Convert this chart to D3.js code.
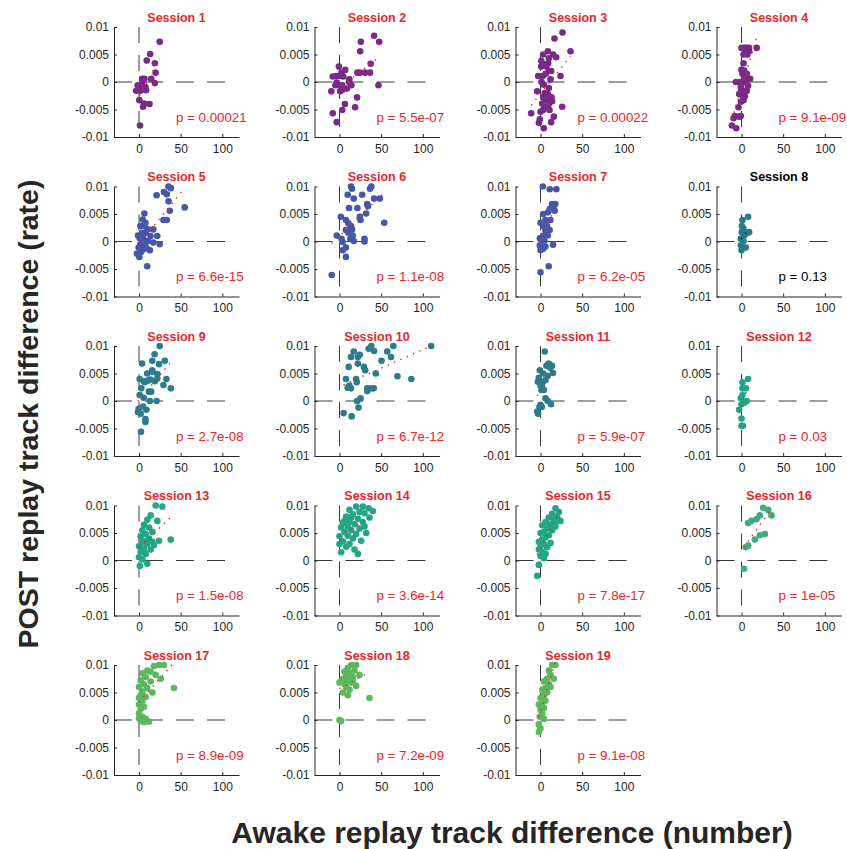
<!DOCTYPE html>
<html><head><meta charset="utf-8">
<script src="https://cdn.jsdelivr.net/npm/d3@7/dist/d3.min.js"></script>
<style>body{margin:0;background:#fff}</style>
</head><body>
<svg id="chart" width="847" height="849"></svg>
<script>
// ---- data ----
const sessionNames = ["Session 1","Session 2","Session 3","Session 4","Session 5","Session 6","Session 7","Session 8","Session 9","Session 10","Session 11","Session 12","Session 13","Session 14","Session 15","Session 16","Session 17","Session 18","Session 19"];
const pLabels = ["0.00021","5.5e-07","0.00022","9.1e-09","6.6e-15","1.1e-08","6.2e-05","0.13","2.7e-08","6.7e-12","5.9e-07","0.03","1.5e-08","3.6e-14","7.8e-17","1e-05","8.9e-09","7.2e-09","9.1e-08"];
const pNumbers = [0.00021,5.5e-07,0.00022,9.1e-09,6.6e-15,1.1e-08,6.2e-05,0.13,2.7e-08,6.7e-12,5.9e-07,0.03,1.5e-08,3.6e-14,7.8e-17,1e-05,8.9e-09,7.2e-09,9.1e-08];
const xTicks = [0, 50, 100];
const yTicks = [-0.01, -0.005, 0, 0.005, 0.01];
const yTickLabels = ["-0.01", "-0.005", "0", "0.005", "0.01"];

const s1x = [24.8,13.4,9.3,19,19.9,14.6,19,3.7,6.5,-1.6,-3.3,2.8,8.5,1.6,0.4,6.1,12.6,4.9,1.2,4,7.7];
const s1y = [0.0073,0.0051,0.0039,0.0034,0.0017,0.0006,-0.0002,0.0006,0.0006,-0.0006,-0.0016,-0.0009,-0.0015,-0.0016,-0.0033,-0.0039,-0.004,-0.0045,-0.0079,0.0001,-0.0009];
const s2x = [41.5,47.6,25.6,24.8,37.4,21.5,24.4,30.5,36.6,46.7,-0.8,6.9,2.4,-4,0,4.5,11.8,11.4,-4.9,-0.8,3.3,8.9,14.2,-9.8,0.8,3.7,21.1,6.5,18.7,3.3,-8.1,-3.3,-3.3,-8.1];
const s2y = [0.0084,0.0073,0.0073,0.0056,0.0033,0.0017,0.0017,0.0017,0.0017,-0.0006,0.0028,0.0022,0.0017,0.0011,0.0011,0.0010,0.0005,0,-0.0006,-0.0006,-0.0006,-0.0012,-0.0006,-0.0017,-0.0017,-0.0014,-0.0028,-0.004,-0.0046,-0.0051,-0.0057,-0.0073,-0.0001,0.001];
const s3x = [26.4,16.8,36,8.8,3.2,15.2,18.8,10,9.2,7.2,0.8,12.8,10,6.4,-2.8,2.8,24,12,1.2,4,10,-4,8.8,3.2,13.2,7.2,2,10,4.8,26,3.2,10.8,-11.2,16,-0.8,-2,12.8,4,0,5,14,1,6];
const s3y = [0.009,0.0079,0.0056,0.0056,0.005,0.005,0.0045,0.0043,0.0034,0.0028,0.0028,0.002,0.002,0.0015,0.0011,0.0011,0.0011,0.0005,0,-0.0005,-0.0011,-0.0017,-0.0022,-0.0028,-0.0028,-0.0033,-0.0039,-0.004,-0.0046,-0.0045,-0.0051,-0.0051,-0.0057,-0.0063,-0.0068,-0.0074,-0.0073,-0.0084,-0.0054,-0.002,-0.0035,0.0038,0.0032];
const s4x = [18.2,0,3.2,6.3,9.1,5.1,9.1,7,2.4,2.4,0,3.2,1.2,6.3,3.2,7.9,10.3,-6.7,-1.6,5.1,-0.8,7.9,-0.4,3.2,6,-2.8,0,4,2.4,-0.8,-3.6,-7.9,-0.8,-2.8,-9.5,-11.5,-6.3,6.3];
const s4y = [0.0062,0.0062,0.0062,0.0062,0.0062,0.0056,0.0056,0.005,0.005,0.0034,0.0022,0.0021,0.0015,0.0015,0.0009,0.0006,0.0006,0,0,-0.0001,-0.0008,-0.0007,-0.0016,-0.0016,-0.0016,-0.0022,-0.0023,-0.0026,-0.0033,-0.0036,-0.0046,-0.0062,-0.0062,-0.0063,-0.0066,-0.0079,-0.0084,-0.0016];
const s5x = [35.4,38.2,30,33.3,21.1,35.4,37,54.9,29.3,33.3,6.5,4.5,7.7,1.6,6.5,10.6,17.1,3.7,7.7,13.8,21.9,-1.2,0.8,4.9,10.6,17.1,1.6,6.5,24.8,-0.4,8.9,13,2.4,5.7,-2.4,0.4,9.8];
const s5y = [0.01,0.0097,0.009,0.0086,0.0084,0.0073,0.0056,0.0062,0.0039,0.0039,0.0051,0.004,0.0034,0.0028,0.0028,0.0022,0.0022,0.0016,0.0016,0.001,0.001,0.0011,0.0006,0.0006,0.0001,-0.0002,-0.0005,-0.0005,-0.0005,-0.0011,-0.0011,-0.0016,-0.0019,-0.0014,-0.0022,-0.0028,-0.0045];
const s6x = [13.8,15,38.2,36.6,27.2,9.8,17.1,41.5,48.4,11.4,21.5,33.3,34.1,32,24.4,25.2,1.6,53.7,7.7,10.6,13.8,15,7.7,10.6,15.9,-3.3,2.4,3.7,13,17.1,30,30,3.7,7.7,7.7,-9.3];
const s6y = [0.01,0.0096,0.01,0.0096,0.0085,0.0085,0.0078,0.0078,0.0078,0.0061,0.0061,0.0068,0.0064,0.0051,0.0045,0.0039,0.0045,0.0034,0.0039,0.0033,0.0028,0.0022,0.0021,0.0016,0.0011,0.0011,0.0005,-0.0001,0.0005,0.0001,0.0005,0,-0.0016,-0.0011,-0.0028,-0.0061];
const s7x = [2.8,11.1,19,13.8,17.8,15.8,11.1,17,9.1,3.2,11.9,5.9,0,7.9,3.2,11,5.9,3.2,8.7,-0.8,0.8,4.7,15,-0.8,5.9,0,3.2,9.9,0];
const s7y = [0.01,0.0095,0.0095,0.0068,0.0068,0.006,0.0059,0.0056,0.0053,0.005,0.0039,0.0039,0.0034,0.0028,0.0028,0.0021,0.0021,0.0011,0.0011,0.0006,0.0003,0.0001,-0.0006,-0.0007,-0.0009,-0.0016,-0.0013,-0.0045,-0.0056];
const s8x = [7.9,1.2,0.4,2.4,9.1,6.3,0.4,3.2,-0.8,2.4,-0.8,3.2,0,5.1];
const s8y = [0.0045,0.0039,0.0028,0.0023,0.0017,0.0015,0.0017,0.0011,0.0005,0.0001,-0.0007,-0.0011,-0.0016,-0.0011];
const s9x = [24.8,18.7,15.9,30.9,24,3.7,15.9,9.8,22,22,32.9,0.8,5.7,10.6,13.8,29.3,38.2,2.8,11.8,14.6,0.8,5.7,13,21.1,-0.4,8.9,-1.2,2,7.7,7.7,2.4,4.9,19,7,16];
const s9y = [0.01,0.0085,0.0073,0.0073,0.0067,0.0068,0.0056,0.005,0.0049,0.0041,0.004,0.004,0.0036,0.0037,0.0039,0.0029,0.0023,0.0023,0.0017,0.0017,0.0011,0.0006,0,0,-0.0014,-0.0016,-0.002,-0.0023,-0.0033,-0.0038,-0.0056,-0.001,0.0036,0.0034,0.0053];
const s10x = [38.2,64.6,110,35,41.5,17.1,57.3,24.4,22,13.8,61.8,50.4,22,11,29.3,30.9,43.5,69.5,86.2,7.7,19.9,20.7,11.8,9.8,33.3,38.2,41.1,33.3,25.2,21.1,22.8,4.9,14.6,13.8,10.5];
const s10y = [0.01,0.01,0.01,0.0095,0.0091,0.009,0.009,0.0084,0.008,0.008,0.008,0.0073,0.0068,0.0062,0.0062,0.0056,0.005,0.0045,0.004,0.004,0.004,0.0034,0.0028,0.0024,0.0023,0.0023,0.0023,0.0018,0.0005,0,-0.0012,-0.0022,-0.0028,0.0023,0.0025];
const s11x = [5.1,9.9,13.8,7.1,11.9,15,-0.8,3.2,8.7,-2,-3.2,2,0,4,1.2,5.9,8.7,12.6,0,-1.2,1.6,-4,-2.8,6,2];
const s11y = [0.009,0.0068,0.0064,0.0064,0.006,0.0051,0.0056,0.005,0.0046,0.0042,0.0035,0.0034,0.0028,0.002,0.002,0.0005,0,-0.0006,-0.0007,-0.0011,-0.0011,-0.0019,-0.0023,0.0038,0.0025];
const s12x = [7.9,1.2,1.2,5.1,1.2,-0.8,6.3,3.2,0,-2.8,0,0,1.6];
const s12y = [0.004,0.0034,0.0023,0.0023,0.0011,0.0005,0,-0.0003,-0.0006,-0.0016,-0.0032,-0.0045,-0.0045];
const s13x = [20,28,14,10,22,6,12,4,16,8,2,12,38,24,4,10,18,0,6,14,2,8,0,4,10,1,6,16];
const s13y = [0.01,0.0098,0.0082,0.0074,0.0072,0.0065,0.006,0.0055,0.0052,0.0048,0.0044,0.004,0.0038,0.0036,0.0034,0.003,0.0028,0.0026,0.0022,0.002,0.0016,0.0012,0.0006,0.0002,-0.0006,-0.001,0.0035,0.0034];
const s14x = [35,28,20,12,40,24,30,16,8,36,22,12,28,4,18,10,2,24,14,6,32,20,10,0,16,26,4,12,8,18,2,22,0,6,30,14];
const s14y = [0.0095,0.0098,0.0098,0.0092,0.009,0.0088,0.0086,0.0084,0.008,0.0078,0.0076,0.0072,0.007,0.0068,0.0066,0.0062,0.006,0.0058,0.0055,0.0052,0.005,0.0048,0.0045,0.0044,0.004,0.0036,0.0035,0.003,0.0025,0.002,0.0015,0.0012,0.003,0.0072,0.0062,0.0078];
const s15x = [18,22,14,20,10,16,24,6,12,2,18,8,14,4,0,10,6,2,-2,12,4,0,8,-2,2,6,0,4,-2,-4,16,20,10];
const s15y = [0.0095,0.0088,0.0085,0.008,0.0078,0.0074,0.0072,0.007,0.0066,0.0064,0.0062,0.0058,0.0055,0.0052,0.005,0.0046,0.0042,0.0038,0.0034,0.0032,0.003,0.0026,0.0024,0.002,0.0016,0.0012,0.0008,0.0004,-0.0008,-0.0028,0.0066,0.0072,0.006];
const s16x = [26,32,36,22,18,12,8,28,22,16,8,5,3];
const s16y = [0.0096,0.0092,0.0082,0.0082,0.0075,0.0072,0.0068,0.0048,0.0046,0.0038,0.0027,0.0024,-0.0015];
const s17x = [30,24,18,10,14,4,20,8,26,2,14,42,6,0,10,4,16,2,8,0,4,0,6,2,0,4,8,2,12,6,0];
const s17y = [0.01,0.01,0.0098,0.009,0.0088,0.0085,0.0082,0.0078,0.0075,0.0072,0.007,0.0058,0.0065,0.006,0.0058,0.0052,0.005,0.0045,0.0042,0.004,0.0035,0.0028,0.0024,0.002,0.0012,0.0006,0.0002,-0.0002,-0.0003,-0.0004,0.0003];
const s18x = [14,20,10,18,6,12,24,8,16,4,10,2,14,6,0,20,8,12,4,36,10,0,2,16];
const s18y = [0.01,0.01,0.0095,0.009,0.0088,0.0085,0.0082,0.008,0.0078,0.0075,0.0072,0.007,0.0068,0.0065,0.0068,0.0062,0.006,0.0055,0.005,0.004,0.0045,0,-0.0002,0.0072];
const s19x = [14,18,10,12,8,4,10,6,2,8,4,0,6,2,-2,4,0,2,-1,4,-2,0,-2,16,12];
const s19y = [0.01,0.01,0.009,0.0082,0.0075,0.007,0.0065,0.0058,0.0055,0.005,0.0045,0.004,0.0035,0.003,0.0028,0.0022,0.0018,0.0012,0.0006,0.0002,-0.0008,-0.0015,-0.0022,0.0075,0.006];

const sessionX = [s1x,s2x,s3x,s4x,s5x,s6x,s7x,s8x,s9x,s10x,s11x,s12x,s13x,s14x,s15x,s16x,s17x,s18x,s19x];
const sessionY = [s1y,s2y,s3y,s4y,s5y,s6y,s7y,s8y,s9y,s10y,s11y,s12y,s13y,s14y,s15y,s16y,s17y,s18y,s19y];

// ---- style ----
const sessionColors = ["#772b87","#772b87","#772b87","#772b87","#4757a7","#4757a7","#4757a7","#2b7a89","#2c7c8b","#2c7c8b","#2c7c8b","#21a386","#24a685","#24a685","#24a685","#3cad7c","#5cb75e","#5cb75e","#5cb75e"];
const RED = "#e8262b";
const FONT = "Arial, 'Liberation Sans', Helvetica, sans-serif";
const W = 125, H = 110;
const colLeft = [114, 314.5, 515.5, 716.5];
const rowTop = r => 27 + r * 159.5;

const svg = d3.select("#chart");
const x = d3.scaleLinear().domain([-30, 120]).range([0, W]);
const y = d3.scaleLinear().domain([-0.01, 0.01]).range([H, 0]);

sessionNames.forEach((name, i) => {
  const r = Math.floor(i / 4), c = i % 4;
  const g = svg.append("g").attr("transform", `translate(${colLeft[c]},${rowTop(r)})`);
  const xs = sessionX[i], ys = sessionY[i];
  const sig = pNumbers[i] < 0.05;
  const txtColor = sig ? RED : "#000";

  // zero reference lines
  g.append("line").attr("x1", x(0)).attr("x2", x(0)).attr("y1", y(0.01)).attr("y2", y(-0.01))
    .attr("stroke", "#3a3a3a").attr("stroke-width", 1).attr("stroke-dasharray", "16,12");
  g.append("line").attr("x1", x(-30)).attr("x2", x(110)).attr("y1", y(0)).attr("y2", y(0))
    .attr("stroke", "#3a3a3a").attr("stroke-width", 1).attr("stroke-dasharray", "18,13");

  // axes
  const ya = g.append("g").call(d3.axisLeft(y).tickValues(yTicks)
      .tickFormat((d, k) => yTickLabels[k]).tickSizeInner(-3).tickSizeOuter(0).tickPadding(5));
  const xa = g.append("g").attr("transform", `translate(0,${H})`).call(d3.axisBottom(x).tickValues(xTicks)
      .tickFormat(d3.format("d")).tickSizeInner(-3).tickSizeOuter(0).tickPadding(7));
  [ya, xa].forEach(a => {
    a.select(".domain").attr("stroke", "#262626").attr("stroke-width", 1);
    a.selectAll(".tick line").attr("stroke", "#262626");
    a.selectAll("text").attr("fill", "#262626").style("font-family", FONT).style("font-size", "12px");
  });

  // points
  g.append("g").selectAll("circle").data(xs.map((v, k) => [v, ys[k]])).join("circle")
    .attr("cx", d => x(d[0])).attr("cy", d => y(d[1])).attr("r", 3.3)
    .attr("fill", sessionColors[i]);

  // least-squares fit line over the data range
  const mx = d3.mean(xs), my = d3.mean(ys);
  const sxy = d3.sum(xs, (v, k) => (v - mx) * (ys[k] - my));
  const sxx = d3.sum(xs, v => (v - mx) * (v - mx));
  const slope = sxy / sxx, icpt = my - slope * mx;
  const [x0, x1] = d3.extent(xs);
  g.append("line").attr("x1", x(x0)).attr("y1", y(icpt + slope * x0))
    .attr("x2", x(x1)).attr("y2", y(icpt + slope * x1))
    .attr("stroke", sig ? RED : "#000").attr("stroke-width", 1.4).attr("stroke-dasharray", "1.4,5.5");

  // title and p-value
  g.append("text").attr("x", W / 2).attr("y", -5.5).attr("text-anchor", "middle")
    .style("font-family", FONT).style("font-size", "12.5px").style("font-weight", "bold")
    .attr("fill", txtColor).text(name);
  g.append("text").attr("x", 62).attr("y", 94.5)
    .style("font-family", FONT).style("font-size", "13.3px")
    .attr("fill", txtColor).text("p = " + pLabels[i]);
});

svg.append("text").attr("transform", "translate(38,414) rotate(-90)").attr("text-anchor", "middle")
  .style("font-family", FONT).style("font-size", "28.5px").style("font-weight", "bold").attr("fill", "#262626")
  .text("POST replay track difference (rate)");
svg.append("text").attr("x", 512).attr("y", 843).attr("text-anchor", "middle")
  .style("font-family", FONT).style("font-size", "30px").style("font-weight", "bold").attr("fill", "#262626")
  .text("Awake replay track difference (number)");
</script>
</body></html>
